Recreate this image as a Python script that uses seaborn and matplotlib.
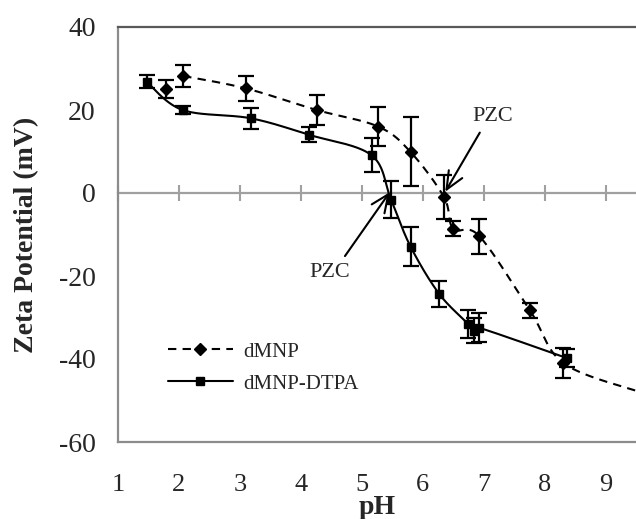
import numpy as np
import pandas as pd
import matplotlib
matplotlib.use("Agg")
import matplotlib.pyplot as plt
from matplotlib.lines import Line2D
import seaborn as sns

# Zeta potential of bare dMNP
ph_dmnp = [1.78, 2.07, 3.10, 4.26, 5.27, 5.80, 6.35, 6.50, 6.93, 7.76, 8.31]
zeta_dmnp = [25.0, 28.2, 25.2, 20.0, 16.0, 9.9, -1.0, -8.6, -10.4, -28.3, -41.0]
err_dmnp = [2.2, 2.6, 3.0, 3.5, 4.7, 8.3, 5.3, 1.8, 4.2, 1.8, 3.6]

# Zeta potential of DTPA-functionalised dMNP
ph_dtpa = [1.47, 2.06, 3.18, 4.14, 5.16, 5.48, 5.80, 6.27, 6.75, 6.84, 6.93, 8.37]
zeta_dtpa = [26.8, 20.0, 18.0, 14.0, 9.1, -1.6, -12.9, -24.3, -31.6, -33.2, -32.5, -39.8]
err_dtpa = [1.6, 1.0, 2.5, 1.8, 4.1, 4.5, 4.8, 3.1, 3.3, 3.0, 3.5, 2.2]

# dashed dMNP guide starts at pH 2 and runs on past the last measurement
dmnp_guide_start = 1
dmnp_guide_tail_ph = [9.55]
dmnp_guide_tail_zeta = [-47.9]

# points of zero charge (arrow tips) and their label positions
pzc_labels = ["PZC", "PZC"]
pzc_tip_ph = [6.37, 5.46]
pzc_tip_zeta = [0.3, 0.2]
pzc_text_ph = [7.15, 4.48]
pzc_text_zeta = [18.5, -19.1]

x_ticks = [1, 2, 3, 4, 5, 6, 7, 8, 9]
y_ticks = [-60, -40, -20, 0, 20, 40]


def smooth_path(x, y, n=40):
    """Smoothed poly-line through the points (cubic Bezier segments)."""
    p = np.column_stack([x, y]).astype(float)
    ext = np.vstack([p[0], p, p[-1]])
    t = np.linspace(0, 1, n)[:, None]
    parts = []
    for i in range(1, len(ext) - 2):
        p0, p1, p2, p3 = ext[i - 1], ext[i], ext[i + 1], ext[i + 2]
        c1 = p1 + (p2 - p0) / 6.0
        c2 = p2 - (p3 - p1) / 6.0
        seg = ((1 - t) ** 3) * p1 + 3 * ((1 - t) ** 2) * t * c1 \
            + 3 * (1 - t) * t ** 2 * c2 + t ** 3 * p2
        parts.append(seg if i == 1 else seg[1:])
    s = np.vstack(parts)
    return s[:, 0], s[:, 1]


sns.set_style("white")
plt.rcParams["font.family"] = ["Liberation Serif", "DejaVu Serif"]

fig = plt.figure(figsize=(6.36, 5.19), dpi=100)
ax = fig.add_axes([118 / 636, 1 - 442 / 519, 1 - 118 / 636, (442 - 27) / 519])

# smoothed connecting curves
gx, gy = smooth_path(ph_dmnp[dmnp_guide_start:] + dmnp_guide_tail_ph,
                     zeta_dmnp[dmnp_guide_start:] + dmnp_guide_tail_zeta)
guide = pd.DataFrame({"pH": gx, "zeta": gy})
sns.lineplot(data=guide, x="pH", y="zeta", sort=False, estimator=None, ax=ax,
             color="black", lw=1.5, dashes=False, linestyle=(0, (4, 3)))

sx, sy = smooth_path(ph_dtpa, zeta_dtpa)
solid = pd.DataFrame({"pH": sx, "zeta": sy})
sns.lineplot(data=solid, x="pH", y="zeta", sort=False, estimator=None, ax=ax,
             color="black", lw=1.5)

# measured points with error bars
ax.errorbar(ph_dmnp, zeta_dmnp, yerr=err_dmnp, fmt="D", color="black",
            ms=6.5, ecolor="black", elinewidth=1.6, capsize=6, capthick=1.6,
            zorder=4)
ax.errorbar(ph_dtpa, zeta_dtpa, yerr=err_dtpa, fmt="s", color="black",
            ms=5.5, ecolor="black", elinewidth=1.6, capsize=6, capthick=1.6,
            zorder=4)

# PZC arrows
rel = [(0.28, 0.0), (0.75, 1.0)]
for lab, tx, ty, hx, hy, rp in zip(pzc_labels, pzc_text_ph, pzc_text_zeta,
                                   pzc_tip_ph, pzc_tip_zeta, rel):
    ax.annotate(lab, xy=(hx, hy), xytext=(tx, ty), ha="center", va="center",
                fontsize=16,
                arrowprops=dict(arrowstyle="->,head_length=0.8,head_width=0.35",
                                color="black", lw=1.5, relpos=rp,
                                shrinkA=3, shrinkB=0))

ax.set_xlim(1, 9.5)
ax.set_ylim(-60, 40)
ax.set_xticks(x_ticks)
ax.set_yticks(y_ticks)
ax.set_xticklabels([str(v) for v in x_ticks])
ax.set_yticklabels([str(v) for v in y_ticks])

ax.tick_params(axis="x", length=0, pad=23, labelsize=19)
ax.tick_params(axis="y", direction="in", length=6.5, width=1.5,
               color="#8c8c8c", pad=16, labelsize=20)

ax.set_xlabel("pH", fontsize=20, fontweight="bold")
ax.xaxis.set_label_coords(0.5, -0.128)
ax.xaxis.label.set_va("top")
ax.set_ylabel("Zeta Potential (mV)", fontsize=20, fontweight="bold")
ax.yaxis.set_label_coords(-0.152, 0.5)

for side, col in [("left", "#8c8c8c"), ("bottom", "#8c8c8c"), ("top", "#595959")]:
    ax.spines[side].set_visible(True)
    ax.spines[side].set_color(col)
    ax.spines[side].set_linewidth(1.6)
ax.spines["right"].set_visible(False)

# zero line carrying the pH tick marks
zero = ax.secondary_xaxis(0.6)
zero.set_xticks(x_ticks)
zero.tick_params(direction="inout", length=11, width=1.5, color="#a0a0a0",
                 labelbottom=False, labeltop=False)
zero.spines["bottom"].set_color("#a0a0a0")
zero.spines["bottom"].set_linewidth(1.6)
zero.spines["top"].set_color("#a0a0a0")
zero.spines["top"].set_linewidth(1.6)

handles = [
    Line2D([], [], color="black", lw=1.5, linestyle=(0, (4, 3)), marker="D", ms=6.5),
    Line2D([], [], color="black", lw=1.5, marker="s", ms=5.5),
]
ax.legend(handles, ["dMNP", "dMNP-DTPA"], loc="upper left",
          bbox_to_anchor=(168 / 636, 1 - 342 / 519), bbox_transform=fig.transFigure,
          frameon=False, fontsize=15, handlelength=3.1, handletextpad=0.5,
          labelspacing=0.6, borderpad=0, borderaxespad=0, numpoints=1)

fig.savefig("out.png", dpi=100)
